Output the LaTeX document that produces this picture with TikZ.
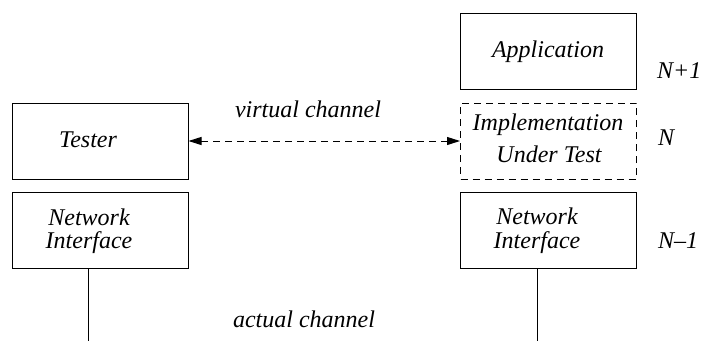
\documentclass[tikz,border=0pt]{standalone}
\usepackage{fontspec}
\setmainfont{Liberation Serif}
\usetikzlibrary{arrows.meta}
\begin{document}
\begin{tikzpicture}[x=1pt,y=-1pt,
  lbl/.style={font=\fontsize{24}{26}\selectfont\itshape, inner sep=0pt, anchor=base},
  box/.style={draw, line width=1pt, minimum width=176pt, minimum height=76pt, inner sep=0pt},
  dbox/.style={box, dash pattern=on 7pt off 5pt},
  link/.style={line width=1pt},
  tip/.style={Triangle[length=13pt,width=8pt]}
]
\useasboundingbox (0,0) rectangle (702,341);
% boxes
\node[box] (tester) at (100,141) {};
\node[box] (nil) at (100,230.5) {};
\node[box] (app) at (548.5,51.5) {};
\node[dbox] (iut) at (548.5,141) {};
\node[box] (nir) at (548.5,230.5) {};
% texts
\node[lbl] (ttester) at (88,147) {Tester};
\node[lbl] (tnil1) at (89,225) {Network};
\node[lbl] (tnil2) at (89,248.5) {Interface};
\node[lbl] (tapp) at (548,57) {Application};
\node[lbl] (tiut1) at (548,130) {Implementation};
\node[lbl] (tiut2) at (549,162) {Under Test};
\node[lbl] (tnir1) at (537,224.5) {Network};
\node[lbl] (tnir2) at (537,248) {Interface};
% layer labels
\node[lbl, anchor=base west] (l1) at (657,78) {N+1};
\node[lbl, anchor=base west] (l2) at (658,145) {N};
\node[lbl, anchor=base west] (l3) at (658,248) {N–1};
% channel labels
\node[lbl] (vc) at (308,117) {virtual channel};
\node[lbl] (ac) at (304,327) {actual channel};
% connectors
\coordinate (bl) at (88.7,341);
\coordinate (br) at (537,341);
\draw[link] (nil.south -| bl) -- (bl);
\draw[link] (nir.south -| br) -- (br);
\draw[link, dash pattern=on 7pt off 5pt, {Triangle[length=13pt,width=8pt]}-{Triangle[length=13pt,width=8pt]}]
  (tester.east) -- (iut.west);
\end{tikzpicture}
\end{document}
